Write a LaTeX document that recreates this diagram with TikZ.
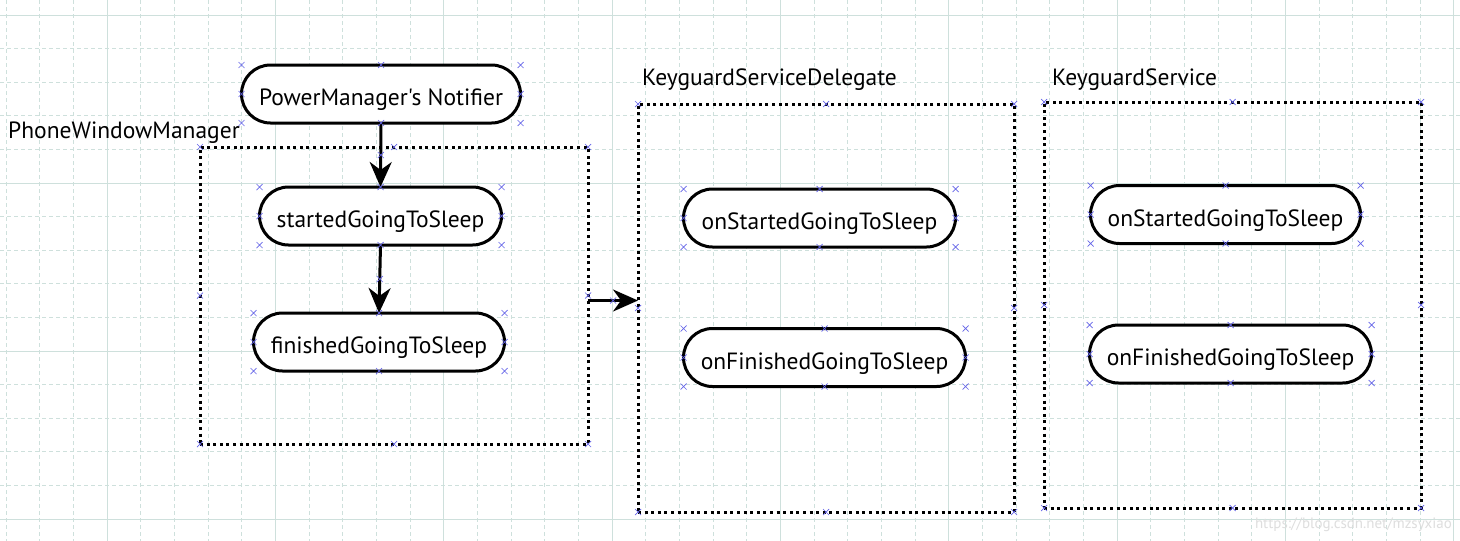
\documentclass[tikz,border=0pt]{standalone}
\usepackage{fontspec}
\setmainfont{PT Sans}[Ligatures=TeXOff]
\usetikzlibrary{arrows.meta,shapes.misc}
\definecolor{gridline}{RGB}{206,224,220}
\definecolor{cpblue}{RGB}{100,100,232}
\definecolor{wmgray}{RGB}{222,222,222}

\begin{document}
\begin{tikzpicture}[
                x=1pt,y=-1pt,
                every node/.style={font=\fontsize{23.5}{28}\selectfont},
                state/.style={draw,line width=3pt,rounded corners=29pt,minimum height=58pt,
                        inner sep=0pt,outer sep=0pt,fill=white,text height=23pt,text depth=0pt},
                frame/.style={draw,line width=3pt,dash pattern=on 3pt off 3.6pt,
                        inner sep=0pt,outer sep=0pt},
                flow/.style={line width=3pt,-{Stealth[length=25pt,width=22pt,inset=8pt]}},
                title/.style={anchor=base west,inner sep=0pt},
                cpt/.style={cross out,draw=cpblue,line width=0.7pt,minimum size=6pt,inner sep=0pt,outer sep=0pt},
                gridmajor/.style={gridline,line width=1pt},
                gridminor/.style={gridline,line width=1pt,dash pattern=on 4pt off 3pt}
            ]

            % background and grid
            \fill[white] (0,0) rectangle (1460,541);
            \useasboundingbox (0,0) rectangle (1460,541);
            \foreach \i in {0,...,43}{
                \pgfmathtruncatemacro\major{mod(\i,5)==3}
                \ifnum\major=1
                    \draw[gridmajor] (6+33.67*\i,0) -- (6+33.67*\i,541);
                \else
                    \draw[gridminor] (6+33.67*\i,0) -- (6+33.67*\i,541);
                \fi
            }
            \foreach \j in {0,...,15}{
                \pgfmathtruncatemacro\major{mod(\j,5)==0}
                \ifnum\major=1
                    \draw[gridmajor] (0,15+33.6*\j) -- (1460,15+33.6*\j);
                \else
                    \draw[gridminor] (0,15+33.6*\j) -- (1460,15+33.6*\j);
                \fi
            }

            % containers
            \node[frame,minimum width=388pt,minimum height=297pt] (pwm) at (394,295.5) {};
            \node[frame,minimum width=376pt,minimum height=408pt] (ksd) at (826,308) {};
            \node[frame,minimum width=377pt,minimum height=406pt] (ks) at (1232.5,305) {};

            \node[title] (pwmlabel) at (8,138) {PhoneWindowManager};
            \node[title] (ksdlabel) at (642,85) {KeyguardServiceDelegate};
            \node[title] (kslabel) at (1052,85) {KeyguardService};

            % states
            \node[state,minimum width=279pt] (notifier) at (381,94) {PowerManager's Notifier};
            \node[state,minimum width=242pt] (started) at (380.5,216) {startedGoingToSleep};
            \node[state,minimum width=251pt] (finished) at (379,342) {finishedGoingToSleep};

            \node[state,minimum width=272pt] (dstarted) at (819.5,218) {onStartedGoingToSleep};
            \node[state,minimum width=282pt] (dfinished) at (824.5,357.5) {onFinishedGoingToSleep};

            \node[state,minimum width=270pt] (kstarted) at (1225.5,214.5) {onStartedGoingToSleep};
            \node[state,minimum width=282pt] (kfinished) at (1230.5,354) {onFinishedGoingToSleep};

            % connectors
            \draw[flow] (notifier.south) -- node[cpt] {} (started.north);
            \draw[flow] (started.south) -- node[cpt] {} (finished.north);
            \coordinate (pwmout) at ([yshift=-5pt]pwm.east);
            \draw[flow] (pwmout) -- node[cpt] {} (pwmout -| ksd.west);

            % connection points
            \foreach \n in {pwm,ksd,ks,notifier,started,finished,dstarted,dfinished,kstarted,kfinished}
                \foreach \a in {north west,north,north east,east,south east,south,south west,west}
                    \node[cpt] at (\n.\a) {};

            \node[anchor=base east,inner sep=0pt,text=wmgray,font=\fontsize{15}{18}\selectfont] (mark) at (1452,528) {https://blog.csdn.net/mzsyxiao};

        \end{tikzpicture}
\end{document}
